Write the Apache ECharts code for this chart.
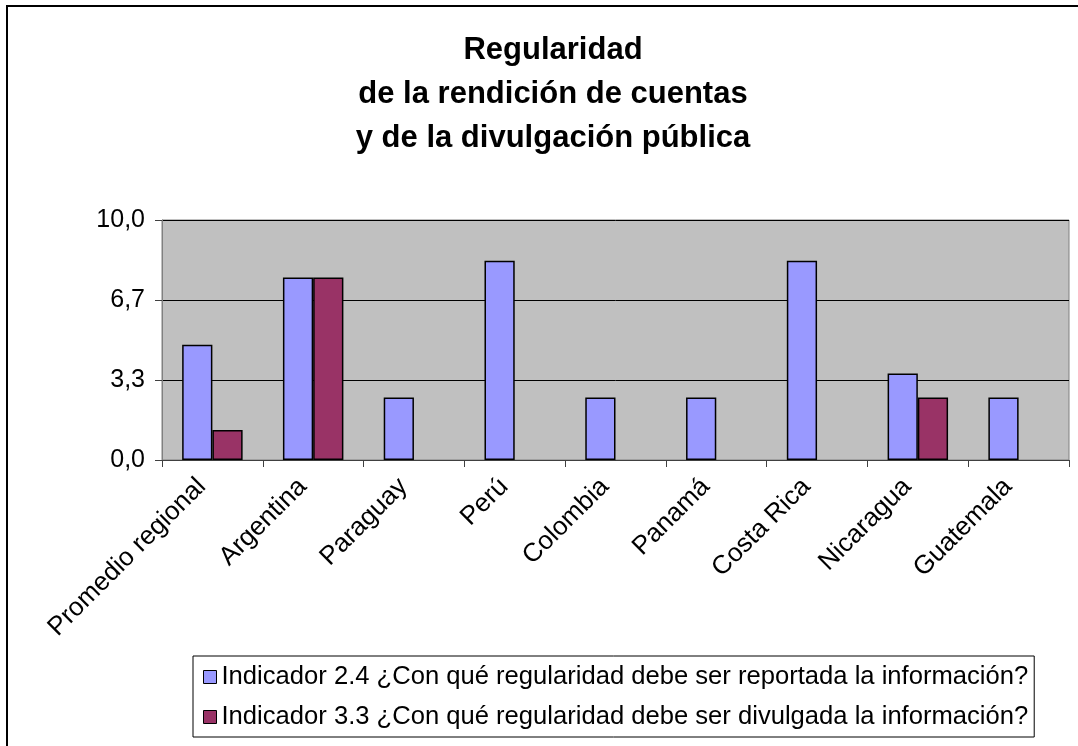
<!DOCTYPE html>
<html><head><meta charset="utf-8">
<script src="https://cdn.jsdelivr.net/npm/echarts@6/dist/echarts.min.js"></script>
<style>html,body{margin:0;padding:0;background:#fff}#c{width:1078px;height:746px}</style>
</head><body><div id="c"></div>
<script>
const categories = ['Promedio regional','Argentina','Paraguay','Perú','Colombia','Panamá','Costa Rica','Nicaragua','Guatemala'];
const seriesNames = ['Indicador 2.4 ¿Con qué regularidad debe ser reportada la información?','Indicador 3.3 ¿Con qué regularidad debe ser divulgada la información?'];
const reportada = [4.8, 7.6, 2.6, 8.3, 2.6, 2.6, 8.3, 3.6, 2.6];
const divulgada = [1.25, 7.6, null, null, null, null, null, 2.6, null];
const titleLines = ['Regularidad','de la rendición de cuentas','y de la divulgación pública'];

const chart = echarts.init(document.getElementById('c'));
const font = 'Liberation Sans, Arial, sans-serif';
chart.setOption({
  animation:false,
  backgroundColor:'#fff',
  graphic:[{type:'rect',shape:{x:7,y:6,width:1200,height:900},style:{fill:'none',stroke:'#000',lineWidth:2}}],
  title:{text:titleLines.join('\n'),left:548,textAlign:'center',top:23,padding:5,
    textStyle:{fontFamily:font,fontWeight:'bold',fontSize:31,lineHeight:44,color:'#000'}},
  legend:{orient:'vertical',left:193,top:656,padding:[7,6,6,10],itemGap:12,itemWidth:13,itemHeight:13,
    backgroundColor:'#fff',borderColor:'#000',borderWidth:1,borderRadius:0,icon:'rect',
    textStyle:{fontFamily:font,fontSize:25.6,color:'#000',lineHeight:28},
    itemStyle:{borderColor:'#000',borderWidth:1}},
  grid:{left:162,right:9,top:220,height:240,show:true,backgroundColor:'#C0C0C0',borderColor:'#808080',borderWidth:1,containLabel:false},
  xAxis:{type:'category',data:categories,boundaryGap:true,
    axisLine:{lineStyle:{color:'#404040',width:1}},
    axisTick:{show:true,length:7,alignWithLabel:false,lineStyle:{color:'#404040'}},
    axisLabel:{rotate:45,interval:0,margin:12,padding:[0,15,0,0],fontFamily:font,fontSize:26,color:'#000'}},
  yAxis:{type:'value',min:0,max:10,interval:10/3,
    axisLine:{show:true,lineStyle:{color:'#808080'}},
    axisTick:{show:true,length:7,lineStyle:{color:'#404040'}},
    splitLine:{show:true,lineStyle:{color:'#000',width:1}},
    axisLabel:{fontFamily:font,fontSize:25,color:'#000',margin:17,
      formatter:v=>v.toFixed(1).replace('.',',')}},
  series:[
    {name:seriesNames[0],type:'bar',data:reportada,barGap:'0%',barCategoryGap:'40%',
      itemStyle:{color:'#9999FF',borderColor:'#000',borderWidth:1.5}},
    {name:seriesNames[1],type:'bar',data:divulgada,
      itemStyle:{color:'#993366',borderColor:'#000',borderWidth:1.5}}
  ]
});
</script></body></html>
